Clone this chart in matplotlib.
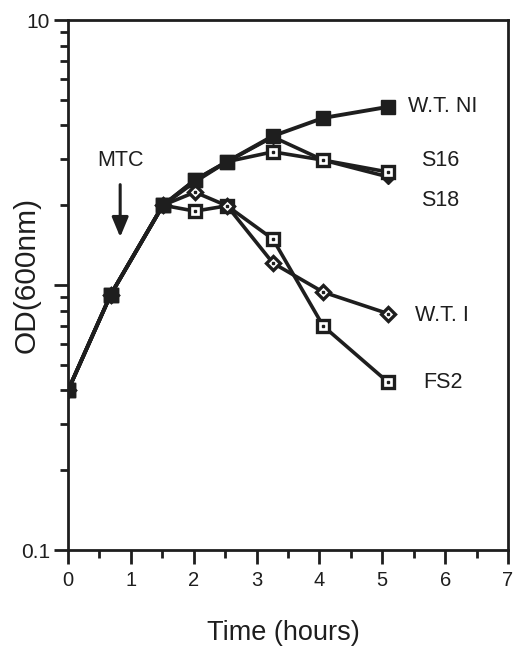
import matplotlib
matplotlib.use('Agg')
import matplotlib.pyplot as plt
from matplotlib.ticker import FixedLocator, FixedFormatter, LogLocator, NullFormatter

plt.rcParams['font.family'] = ['Liberation Sans', 'DejaVu Sans']

INK = '#1e1e1e'

# data
time = [0, 0.68, 1.51, 2.02, 2.53, 3.26, 4.06, 5.09]
wt_ni = [0.40, 0.92, 2.00, 2.49, 2.92, 3.65, 4.27, 4.70]
s16 = [0.40, 0.92, 2.00, 2.49, 2.92, 3.18, 2.96, 2.67]
s18 = [0.40, 0.92, 2.00, 2.45, 2.92, 3.62, 2.96, 2.56]
wt_i = [0.40, 0.92, 2.00, 2.24, 1.99, 1.21, 0.94, 0.78]
fs2 = [0.40, 0.92, 2.00, 1.90, 1.99, 1.49, 0.70, 0.43]

labels = ['W.T. NI', 'S16', 'S18', 'W.T. I', 'FS2']
label_x = [5.41, 5.62, 5.62, 5.52, 5.65]
label_y = [4.70, 2.96, 2.09, 0.77, 0.43]

fig = plt.figure(figsize=(5.13, 6.49), dpi=100)
ax = fig.add_axes([68 / 513, 99 / 649, 440 / 513, 530 / 649])
ax.set_yscale('log')
ax.set_xlim(0, 7)
ax.set_ylim(0.1, 10)

# S18 - filled diamonds
ax.plot(time, s18, color=INK, lw=2.6, marker='D', ms=7.5, mfc=INK, mec=INK, zorder=2)
# S16 - open squares with dot
ax.plot(time, s16, color=INK, lw=2.6, marker='s', ms=8.5, mfc='white', mec=INK, mew=2.4, zorder=3)
ax.plot(time, s16, ls='none', marker='s', ms=1.8, color=INK, zorder=3)
# FS2 - open squares with dot
ax.plot(time, fs2, color=INK, lw=2.6, marker='s', ms=8.5, mfc='white', mec=INK, mew=2.4, zorder=3)
ax.plot(time, fs2, ls='none', marker='s', ms=1.8, color=INK, zorder=3)
# W.T. I - open diamonds with dot
ax.plot(time, wt_i, color=INK, lw=2.6, marker='D', ms=7, mfc='white', mec=INK, mew=2.4, zorder=4)
ax.plot(time, wt_i, ls='none', marker='s', ms=1.5, color=INK, zorder=4)
# W.T. NI - filled squares
ax.plot(time, wt_ni, color=INK, lw=2.8, marker='s', ms=10, mfc=INK, mec=INK, zorder=5)

for name, lx, ly in zip(labels, label_x, label_y):
    ax.text(lx, ly, name, fontsize=15.5, color=INK, ha='left', va='center')

# MTC arrow
ax.text(0.83, 2.96, 'MTC', fontsize=15.5, color=INK, ha='center', va='center')
ax.annotate('', xy=(0.83, 1.48), xytext=(0.83, 2.45),
            arrowprops=dict(arrowstyle='-|>,head_length=1.2,head_width=0.5',
                            color=INK, lw=2.2))

# axes styling
for side in ['left', 'bottom', 'top', 'right']:
    ax.spines[side].set_linewidth(2)
    ax.spines[side].set_color(INK)

ax.xaxis.set_major_locator(FixedLocator(range(8)))
ax.xaxis.set_minor_locator(FixedLocator([0.5 + i for i in range(7)]))
ax.yaxis.set_major_locator(FixedLocator([0.1, 1, 10]))
ax.yaxis.set_major_formatter(FixedFormatter(['0.1', '', '10']))
ax.yaxis.set_minor_locator(LogLocator(base=10, subs=range(2, 10)))
ax.yaxis.set_minor_formatter(NullFormatter())

ax.tick_params(axis='both', which='major', direction='out', length=10, width=2,
               color=INK, labelcolor=INK)
ax.tick_params(axis='both', which='minor', direction='out', length=6, width=2, color=INK)
ax.tick_params(axis='x', labelsize=14.5, pad=5)
ax.tick_params(axis='y', labelsize=15, pad=3)

ax.set_xlabel('Time (hours)', fontsize=19.5, color=INK)
ax.xaxis.set_label_coords(0.49, -0.132)
ax.set_ylabel('OD(600nm)', fontsize=21.5, color=INK)
ax.yaxis.set_label_coords(-0.062, 0.519)

fig.savefig('out.png', dpi=100, facecolor='white')
